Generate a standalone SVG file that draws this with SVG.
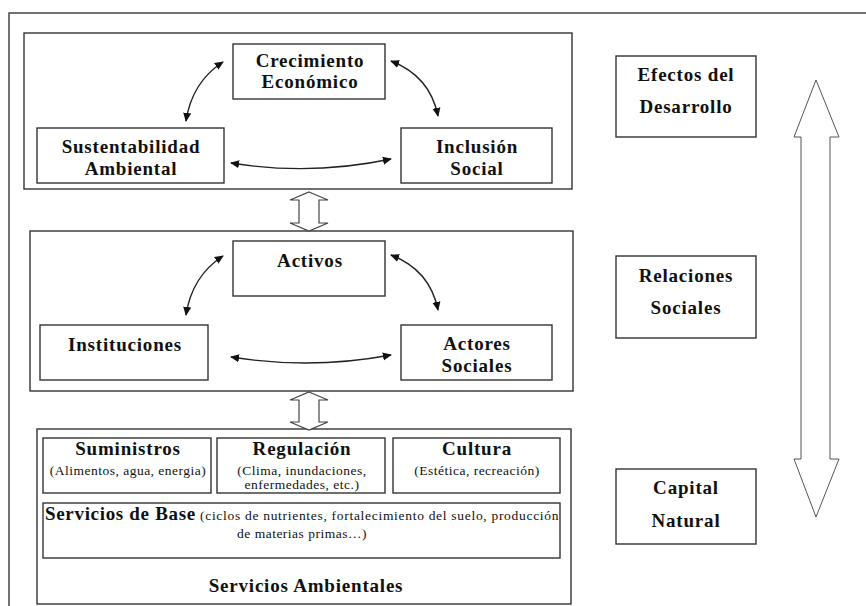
<svg xmlns="http://www.w3.org/2000/svg" width="866" height="606" viewBox="0 0 866 606">
<defs>
<marker id="ah" viewBox="0 0 10 10" refX="9" refY="5" markerWidth="9" markerHeight="9" markerUnits="userSpaceOnUse" orient="auto-start-reverse"><path d="M0,0.5 L10,5 L0,9.5 z" fill="#111"/></marker>
</defs>
<style>
.frame{fill:none;stroke:#444;stroke-width:1.5}
.box{fill:#fff;stroke:#333;stroke-width:1.4}
.t{font-family:"Liberation Serif","Times New Roman",serif;font-weight:bold;font-size:19px;fill:#111;text-anchor:middle;letter-spacing:0.8px}
.h{font-family:"Liberation Serif","Times New Roman",serif;font-weight:bold;font-size:19px;fill:#111;text-anchor:middle;letter-spacing:0.8px}
.s{font-family:"Liberation Serif","Times New Roman",serif;font-size:13.5px;fill:#111;text-anchor:middle;letter-spacing:0.5px}
.arc{fill:none;stroke:#222;stroke-width:1.4;marker-start:url(#ah);marker-end:url(#ah)}
.hollow{fill:#fff;stroke:#444;stroke-width:1.2}
</style>
<rect width="866" height="606" fill="#fff"/>
<rect class="frame" x="9" y="13" width="870" height="620"/>

<g id="efectos-desarrollo">
<rect class="box" x="24" y="33" width="548" height="156"/>
</g>
<g id="relaciones-sociales-panel">
<rect class="box" x="30" y="231" width="543" height="160"/>
</g>
<g id="servicios-ambientales">
<rect class="box" x="37" y="429" width="534" height="175"/>
<text class="h" x="306" y="592">Servicios Ambientales</text>
</g>

<g id="crecimiento">
<rect class="box" x="233" y="44" width="152" height="55"/>
<text class="t" x="310" y="67">Crecimiento</text>
<text class="t" x="310" y="88">Económico</text>
</g>
<g id="sustentabilidad">
<rect class="box" x="37" y="128" width="187" height="55"/>
<text class="t" x="131" y="153">Sustentabilidad</text>
<text class="t" x="131" y="175">Ambiental</text>
</g>
<g id="inclusion">
<rect class="box" x="401" y="128" width="151" height="55"/>
<text class="t" x="477" y="153">Inclusión</text>
<text class="t" x="477" y="175">Social</text>
</g>

<g id="activos">
<rect class="box" x="233" y="241" width="152" height="55"/>
<text class="t" x="310" y="267">Activos</text>
</g>
<g id="instituciones">
<rect class="box" x="40" y="325" width="168" height="55"/>
<text class="t" x="125" y="351">Instituciones</text>
</g>
<g id="actores">
<rect class="box" x="401" y="325" width="151" height="55"/>
<text class="t" x="477" y="350">Actores</text>
<text class="t" x="477" y="372">Sociales</text>
</g>

<g id="suministros">
<rect class="box" x="43" y="438" width="168" height="55"/>
<text class="h" x="128" y="455">Suministros</text>
<text class="s" x="128" y="475">(Alimentos, agua, energia)</text>
</g>
<g id="regulacion">
<rect class="box" x="217" y="438" width="168" height="55"/>
<text class="h" x="302" y="455">Regulación</text>
<text class="s" x="302" y="475">(Clima, inundaciones,</text>
<text class="s" x="302" y="489">enfermedades, etc.)</text>
</g>
<g id="cultura">
<rect class="box" x="393" y="438" width="167" height="55"/>
<text class="h" x="477" y="455">Cultura</text>
<text class="s" x="477" y="475">(Estética, recreación)</text>
</g>
<g id="servicios-base">
<rect class="box" x="43" y="503" width="517" height="55"/>
<text class="h" x="45" y="520" style="text-anchor:start" textLength="151" lengthAdjust="spacing">Servicios de Base</text>
<text class="s" x="200" y="520" style="text-anchor:start" textLength="359" lengthAdjust="spacing">(ciclos de nutrientes, fortalecimiento del suelo, producción</text>
<text class="s" x="302" y="538">de materias primas…)</text>
</g>

<g id="efectos-label">
<rect class="box" x="616" y="56" width="140" height="81"/>
<text class="t" x="686" y="81">Efectos del</text>
<text class="t" x="686" y="113">Desarrollo</text>
</g>
<g id="relaciones-label">
<rect class="box" x="616" y="256" width="140" height="82"/>
<text class="t" x="686" y="282">Relaciones</text>
<text class="t" x="686" y="314">Sociales</text>
</g>
<g id="capital-label">
<rect class="box" x="616" y="469" width="140" height="75"/>
<text class="t" x="686" y="494">Capital</text>
<text class="t" x="686" y="527">Natural</text>
</g>

<g id="connectors">
<path class="arc" d="M186,121 Q192,82 223,62"/>
<path class="arc" d="M391,61 Q430,76 438,116"/>
<path class="arc" d="M231,163 Q311,176 391,159"/>
<path class="arc" d="M186,315 Q192,276 223,256"/>
<path class="arc" d="M391,255 Q430,270 438,310"/>
<path class="arc" d="M231,357 Q311,370 391,355"/>
<path class="hollow" d="M309,192 L328,200 L319,200 L319,223 L328,223 L309,231 L290,223 L299,223 L299,200 L290,200 Z"/>
<path class="hollow" d="M309,392 L328,400 L319,400 L319,422 L328,422 L309,430 L290,422 L299,422 L299,400 L290,400 Z"/>
<path class="hollow" style="stroke:#555;stroke-width:1" d="M816,80 L839,137 L830,137 L830,459 L839,459 L816,517 L794,459 L801,459 L801,137 L794,137 Z"/>
</g>
</svg>
